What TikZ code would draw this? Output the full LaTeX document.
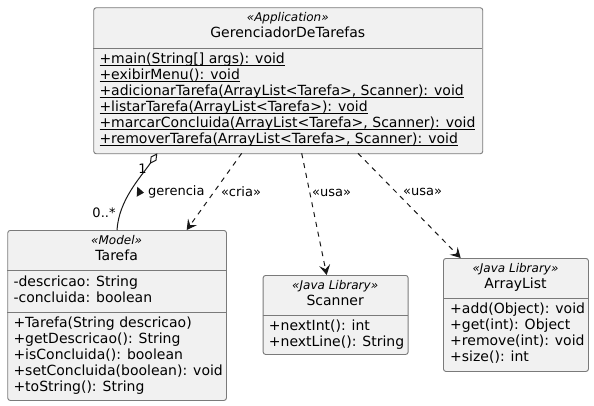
\documentclass[tikz,border=0pt]{standalone}
\usepackage{fontspec}
\setmainfont{DejaVu Sans}
\usetikzlibrary{arrows.meta}
\definecolor{boxfill}{HTML}{F1F1F1}
\definecolor{ink}{HTML}{181818}
\definecolor{boxline}{HTML}{7A7A7A}
\newsavebox\stulbox
\newcommand{\stul}[1]{\sbox\stulbox{#1}\rlap{\rule[-2.9pt]{\wd\stulbox}{1pt}}\usebox\stulbox}
\tikzset{
 classbox/.style={draw=boxline, line width=0.9pt, fill=boxfill, rounded corners=2.5pt, inner sep=0pt, anchor=north west},
 member/.style={anchor=base west, inner sep=0pt, font=\fontsize{14}{16}\selectfont},
 cname/.style={anchor=base, inner sep=0pt, font=\fontsize{14}{16}\selectfont},
 stereo/.style={anchor=base, inner sep=0pt, font=\fontsize{12}{14}\selectfont\itshape},
 sep/.style={draw=boxline, line width=0.9pt},
 rel/.style={draw=ink, line width=1pt},
 dep/.style={rel, dash pattern=on 5pt off 5pt, -{Stealth[length=10pt,width=11pt,inset=4pt]}},
 elabel/.style={inner sep=0pt, font=\fontsize{13}{15}\selectfont},
}
\begin{document}
\begin{tikzpicture}[x=1pt,y=-1pt]
\useasboundingbox (0,0) rectangle (594,406);

% GerenciadorDeTarefas
\node[classbox, minimum width=389pt, minimum height=146pt] (main) at (93.3,7.3) {};
\draw[sep] (93.3,48.3) -- (482.3,48.3);
\node[stereo] (mainst) at (287.8,21.5) {«Application»};
\node[cname] (mainnm) at (287.8,37.5) {GerenciadorDeTarefas};
\node[member] (m1) at (99.3,63.3) {\stul{+main(String[] args): void}};
\node[member] (m2) at (99.3,79.3) {\stul{+exibirMenu(): void}};
\node[member] (m3) at (99.3,95.3) {\stul{+adicionarTarefa(ArrayList<Tarefa>, Scanner): void}};
\node[member] (m4) at (99.3,111.3) {\stul{+listarTarefa(ArrayList<Tarefa>): void}};
\node[member] (m5) at (99.3,127.3) {\stul{+marcarConcluida(ArrayList<Tarefa>, Scanner): void}};
\node[member] (m6) at (99.3,143.3) {\stul{+removerTarefa(ArrayList<Tarefa>, Scanner): void}};

% Tarefa
\node[classbox, minimum width=218.7pt, minimum height=170pt] (tarefa) at (7.3,230) {};
\draw[sep] (7.3,270) -- (226,270);
\draw[sep] (7.3,312.7) -- (226,312.7);
\node[stereo] (tst) at (116.65,244.3) {«Model»};
\node[cname] (tnm) at (116.65,260) {Tarefa};
\node[member] (ta1) at (13.3,286) {-descricao: String};
\node[member] (ta2) at (13.3,302) {-concluida: boolean};
\node[member] (tm1) at (13.3,327.5) {+Tarefa(String descricao)};
\node[member] (tm2) at (13.3,343.5) {+getDescricao(): String};
\node[member] (tm3) at (13.3,359.5) {+isConcluida(): boolean};
\node[member] (tm4) at (13.3,375.5) {+setConcluida(boolean): void};
\node[member] (tm5) at (13.3,391.5) {+toString(): String};

% Scanner
\node[classbox, minimum width=145pt, minimum height=79pt] (scanner) at (262.7,275) {};
\draw[sep] (262.7,315) -- (407.7,315);
\node[stereo] (sst) at (335.2,289.3) {«Java Library»};
\node[cname] (snm) at (335.2,305) {Scanner};
\node[member] (sm1) at (268.7,330.5) {+nextInt(): int};
\node[member] (sm2) at (268.7,346.5) {+nextLine(): String};

% ArrayList
\node[classbox, minimum width=145pt, minimum height=113pt] (arraylist) at (443,258) {};
\draw[sep] (443,298) -- (588,298);
\node[stereo] (ast) at (515.5,272.3) {«Java Library»};
\node[cname] (anm) at (515.5,288) {ArrayList};
\node[member] (am1) at (450,313.5) {+add(Object): void};
\node[member] (am2) at (450,329.5) {+get(int): Object};
\node[member] (am3) at (450,345.5) {+remove(int): void};
\node[member] (am4) at (450,361.5) {+size(): int};

% connectors
\coordinate (aggS) at (157.3,153.3);
\coordinate (aggE) at (117,230);
\draw[rel, {Diamond[open,length=13pt,width=7pt]}-] (aggS) .. controls (140,178) and (119,200) .. (aggE);
\node[elabel] (one) at (142.5,168.5) {1};
\node[elabel] (mult) at (104,213) {0..*};
\fill[ink] (137.3,186.7) -- (144,192.7) -- (136.7,196.7) -- cycle;
\node[elabel, anchor=west] (ger) at (148,192) {gerencia};

\coordinate (criaS) at (241.7,153.3);
\coordinate (criaE) at (186.7,230);
\draw[dep] (criaS) -- (criaE);
\node[elabel] (cria) at (241,192) {«cria»};

\coordinate (usa1S) at (301.7,153.3);
\coordinate (usa1E) at (326.7,275);
\draw[dep] (usa1S) -- (usa1E);
\node[elabel] (usa1) at (331.5,192.5) {«usa»};

\coordinate (usa2S) at (358,153.3);
\coordinate (usa2E) at (460.7,258);
\draw[dep] (usa2S) -- (usa2E);
\node[elabel] (usa2) at (422.5,192) {«usa»};
\end{tikzpicture}
\end{document}
